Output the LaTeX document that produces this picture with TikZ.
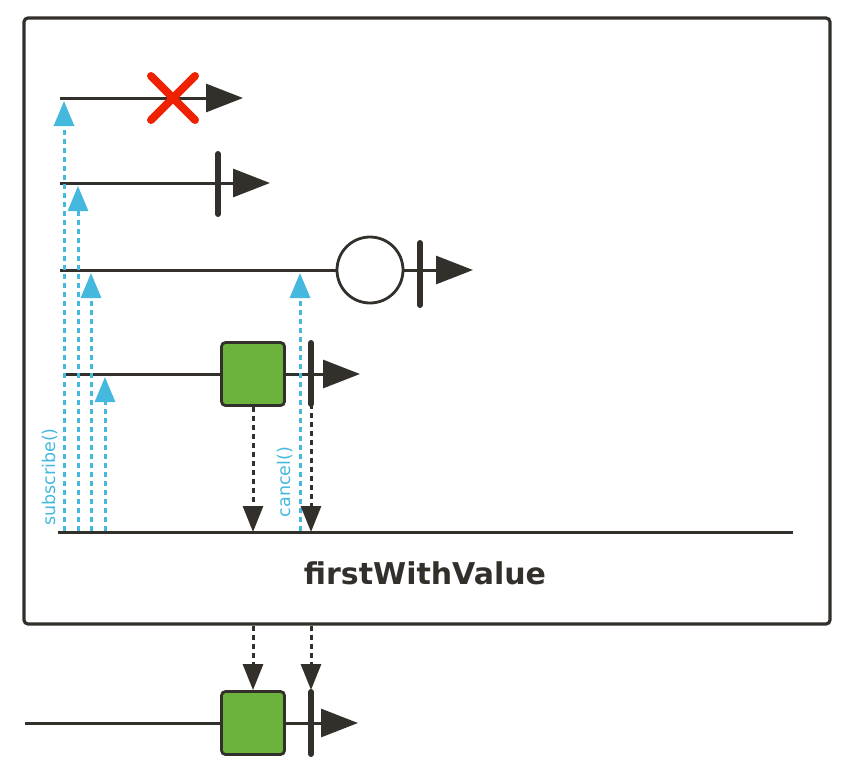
\documentclass[tikz,border=0pt]{standalone}
\usepackage{fontspec}
\setmainfont{DejaVu Sans}
\usetikzlibrary{arrows.meta}
\definecolor{rxdark}{RGB}{51,48,43}
\definecolor{rxblue}{RGB}{69,184,222}
\definecolor{rxgreen}{RGB}{108,179,62}
\definecolor{rxred}{RGB}{238,33,0}
\begin{document}
\begin{tikzpicture}[x=1pt,y=-1pt,
  ln/.style={draw=rxdark,line width=3pt},
  tl/.style={ln,-{Triangle[length=37pt,width=28pt]}},
  bar/.style={draw=rxdark,line width=6pt,line cap=round},
  item/.style={draw=rxdark,line width=2.8pt,fill=rxgreen,rounded corners=4pt,minimum size=63pt,inner sep=0pt},
  done/.style={draw=rxdark,line width=2.8pt,circle,minimum size=66pt,inner sep=0pt,fill=white},
  sub/.style={draw=rxblue,line width=3pt,dash pattern=on 5pt off 4pt,shorten >=3pt,-{Triangle[length=25pt,width=20pt]}},
  sig/.style={draw=rxdark,line width=3pt,dash pattern=on 5pt off 4pt,-{Triangle[length=26pt,width=20pt]}},
  lab/.style={text=rxblue,font=\fontsize{17.5}{20}\selectfont,rotate=90,inner sep=0pt}]
\useasboundingbox (0,0) rectangle (850,768);
% operator box
\node[draw=rxdark,line width=3.2pt,rounded corners=4pt,minimum width=806pt,minimum height=606pt] (op) at (427,321) {};
\node[text=rxdark,font=\bfseries\fontsize{30}{34}\selectfont] (opname) at (425,573) {firstWithValue};
% source 1: error
\coordinate (a0) at (60,98); \coordinate (a1) at (243,98);
\draw[tl] (a0)--(a1);
\coordinate (err) at (173,98);
\draw[rxred,line width=8pt,line cap=round,shift={(err)}] (-22,-22)--(22,22) (-22,22)--(22,-22);
% source 2: complete
\coordinate (b0) at (60,183); \coordinate (b1) at (270,183);
\draw[tl] (b0)--(b1);
\draw[bar] (218,154)--(218,214);
% source 3: empty, cancelled
\coordinate (c0) at (60,270); \coordinate (c1) at (473,270);
\node[done] (cdone) at (370,270) {};
\draw[ln] (c0)--(cdone);
\draw[tl] (cdone)--(c1);
\draw[bar] (420,243)--(420,305);
% source 4: value, complete
\coordinate (d0) at (65,374); \coordinate (d1) at (360,374);
\node[item] (dv) at (253,374) {};
\draw[ln] (d0)--(dv);
\draw[tl] (dv)--(d1);
\draw[bar] (311,343)--(311,404);
\coordinate (dbar) at (311,404);
% operator line
\coordinate (r0) at (58,532); \coordinate (r1) at (793,532);
\draw[ln] (r0)--(r1);
% subscribe() / cancel()
\coordinate (s1) at (64,531); \coordinate (s2) at (78,531);
\coordinate (s3) at (91,531); \coordinate (s4) at (105,531);
\coordinate (s5) at (300,531);
\draw[sub] (s1)--(s1 |- a0);
\draw[sub] (s2)--(s2 |- b0);
\draw[sub] (s3)--(s3 |- c0);
\draw[sub] (s4)--(s4 |- d0);
\draw[sub] (s5)--(s5 |- c0);
\node[lab] (subl) at (50,477) {subscribe()};
\node[lab] (canl) at (285,482) {cancel()};
% value and completion passed on
\draw[sig] (dv.south)--(dv.south |- r0);
\draw[sig] (dbar)--(dbar |- r0);
% result
\coordinate (o0) at (25,723); \coordinate (o1) at (358,723);
\node[item] (ov) at (253,723) {};
\draw[ln] (o0)--(ov);
\draw[tl] (ov)--(o1);
\draw[bar] (311,692)--(311,754);
\coordinate (obar) at (311,690);
\draw[sig] (op.south -| ov)--(ov.north);
\draw[sig] (op.south -| obar)--(obar);
\end{tikzpicture}
\end{document}
